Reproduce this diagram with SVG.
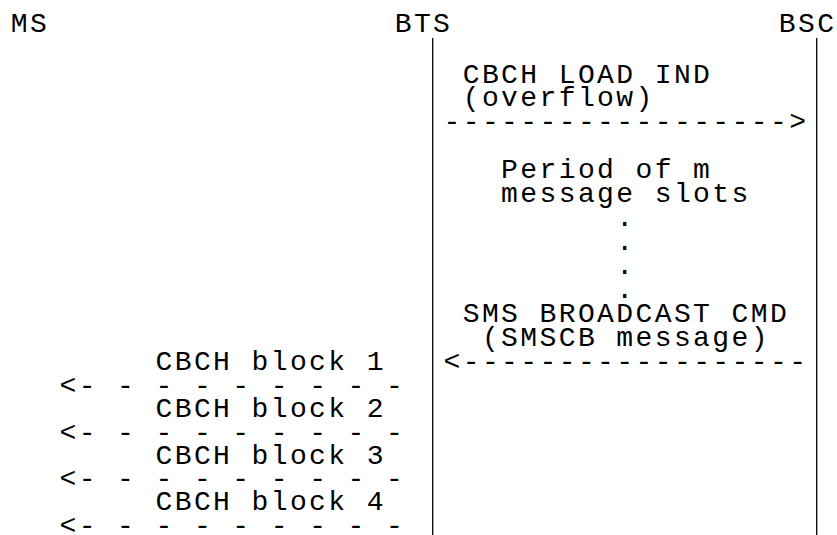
<svg xmlns="http://www.w3.org/2000/svg" width="837" height="535" viewBox="0 0 837 535">
<style>
text{font-family:"Liberation Mono","DejaVu Sans Mono",monospace;font-size:28px;letter-spacing:2.4px;fill:#000;white-space:pre}
.life{stroke:#000;stroke-width:1.3;fill:none}
</style>
<rect width="837" height="535" fill="#fff"/>
<g id="node-ms"><text x="10.8" y="32">MS</text></g>
<g id="node-bts"><text x="394.7" y="32">BTS</text></g>
<g id="node-bsc"><text x="778.8" y="32">BSC</text></g>
<g id="connectors">
<line class="life" x1="432.7" y1="38" x2="432.7" y2="535"/>
<line class="life" x1="816.7" y1="38" x2="816.7" y2="535"/>
<text x="443.5" y="130">------------------&gt;</text>
<text x="443.5" y="370">&lt;------------------</text>
<text x="59.5" y="393.5">&lt;- - - - - - - - -</text>
<text x="59.5" y="440.5">&lt;- - - - - - - - -</text>
<text x="59.5" y="487">&lt;- - - - - - - - -</text>
<text x="59.5" y="534">&lt;- - - - - - - - -</text>
</g>
<g id="labels">
<text x="462.7" y="83">CBCH LOAD IND</text>
<text x="462.7" y="106">(overflow)</text>
<text x="501.1" y="178">Period of m</text>
<text x="501.1" y="201.5">message slots</text>
<text x="616.3" y="225.5">.</text>
<text x="616.3" y="249.5">.</text>
<text x="616.3" y="273.5">.</text>
<text x="616.3" y="297.5">.</text>
<text x="462.7" y="322">SMS BROADCAST CMD</text>
<text x="481.9" y="346">(SMSCB message)</text>
<text x="155.5" y="370">CBCH block 1</text>
<text x="155.5" y="417">CBCH block 2</text>
<text x="155.5" y="464">CBCH block 3</text>
<text x="155.5" y="510">CBCH block 4</text>
</g>
</svg>
